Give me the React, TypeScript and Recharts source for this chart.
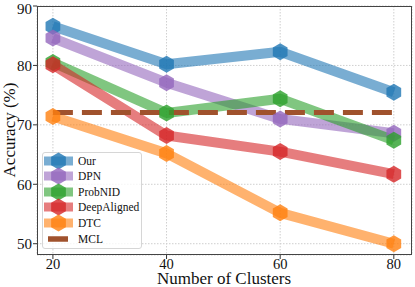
import React from 'react';
import { LineChart, Line, XAxis, YAxis, CartesianGrid } from 'recharts';

const clusters = [20, 40, 60, 80];
const ourAcc = [86.6, 80.2, 82.3, 75.5];
const dpnAcc = [84.6, 77.1, 71.0, 68.6];
const probnidAcc = [80.5, 72.0, 74.4, 67.4];
const deepAlignedAcc = [80.1, 68.2, 65.5, 61.7];
const dtcAcc = [71.4, 65.2, 55.2, 50.0];
const mclAcc = [72.1, 72.1, 72.1, 72.1];
const yTicks = [50, 60, 70, 80, 90];

const series = [
  { key: 'Our', values: ourAcc, color: '#1f77b4' },
  { key: 'DPN', values: dpnAcc, color: '#9467bd' },
  { key: 'ProbNID', values: probnidAcc, color: '#2ca02c' },
  { key: 'DeepAligned', values: deepAlignedAcc, color: '#d62728' },
  { key: 'DTC', values: dtcAcc, color: '#ff7f0e' },
];
const mclColor = '#a0522d';

const data = clusters.map((c, i) => {
  const row: Record<string, number> = { clusters: c, MCL: mclAcc[i] };
  series.forEach((s) => (row[s.key] = s.values[i]));
  return row;
});

const FONT = '"Liberation Serif", "DejaVu Serif", serif';

const hexPoints = (cx: number, cy: number, r: number) =>
  Array.from({ length: 6 }, (_, k) => {
    const a = (Math.PI / 3) * k - Math.PI / 2;
    return `${cx + r * Math.cos(a)},${cy + r * Math.sin(a)}`;
  }).join(' ');

const makeDot = (color: string) => (props: any) => {
  const { cx, cy, index } = props;
  if (cx == null || cy == null) return <g key={index} />;
  return <polygon key={index} points={hexPoints(cx, cy, 8.5)} fill={color} fillOpacity={0.8} stroke="none" />;
};

// legend drawn as an overlay so it doesn't eat into the plot area
const LegendBox = () => (
  <div
    style={{
      position: 'absolute',
      left: 42,
      top: 152,
      width: 100,
      height: 97,
      background: 'rgba(255,255,255,0.8)',
      border: '1px solid #d6d6d6',
      borderRadius: 3,
      boxSizing: 'border-box',
      fontFamily: FONT,
      fontSize: 11.5,
      color: '#111',
    }}
  >
    {series.map((s, i) => (
      <div key={s.key} style={{ position: 'absolute', left: 0, top: -1 + i * 15.4, height: 18, width: 100 }}>
        <svg width={36} height={18} style={{ position: 'absolute', left: 0, top: 0 }}>
          <line x1={1} y1={9} x2={30} y2={9} stroke={s.color} strokeOpacity={0.6} strokeWidth={9} />
          <polygon points={hexPoints(15.5, 9, 8.5)} fill={s.color} fillOpacity={0.8} />
        </svg>
        <span style={{ position: 'absolute', left: 35, top: 1, lineHeight: '16px' }}>{s.key}</span>
      </div>
    ))}
    <div style={{ position: 'absolute', left: 0, top: -1 + 5 * 15.4 + 1, height: 18, width: 100 }}>
      <svg width={36} height={18} style={{ position: 'absolute', left: 0, top: 0 }}>
        <line x1={5} y1={9} x2={25} y2={9} stroke={mclColor} strokeWidth={5.5} />
      </svg>
      <span style={{ position: 'absolute', left: 35, top: 1, lineHeight: '16px' }}>MCL</span>
    </div>
  </div>
);

const YLabel = () => (
  <text x={9} y={130} transform="rotate(-90 9 130)" textAnchor="middle" dominantBaseline="central"
    fontFamily={FONT} fontSize={17} fill="#111">
    Accuracy (%)
  </text>
);

const XLabel = () => (
  <text x={224} y={284} textAnchor="middle" fontFamily={FONT} fontSize={17} fill="#111">
    Number of Clusters
  </text>
);

const App: React.FC = () => {
  return (
    <div style={{ position: 'absolute', left: 0, top: 0, width: 415, height: 287, background: '#fff' }}>
      <LineChart width={415} height={287} data={data} margin={{ top: 6, right: 3, left: 0, bottom: 0 }}>
        <CartesianGrid stroke="#cfcfcf" strokeDasharray="1.5 1.5" />
        <XAxis
          dataKey="clusters"
          type="number"
          domain={[17.2, 83.2]}
          ticks={clusters}
          height={32}
          tickSize={4}
          tickMargin={0}
          tickLine={{ stroke: '#333' }}
          axisLine={false}
          tick={{ fontFamily: FONT, fontSize: 14.5, fill: '#111' }}
          label={<XLabel />}
        />
        <YAxis
          type="number"
          domain={[48.1, 90]}
          ticks={yTicks}
          width={37}
          tickSize={4}
          tickMargin={1}
          tickLine={{ stroke: '#333' }}
          axisLine={false}
          allowDataOverflow
          tick={{ fontFamily: FONT, fontSize: 15, fill: '#111' }}
          label={<YLabel />}
        />
        {series.map((s) => (
          <Line
            key={s.key}
            dataKey={s.key}
            stroke={s.color}
            strokeOpacity={0.6}
            strokeWidth={10}
            strokeLinejoin="round"
            dot={makeDot(s.color)}
            activeDot={false}
            isAnimationActive={false}
          />
        ))}
        <Line
          dataKey="MCL"
          stroke={mclColor}
          strokeWidth={5}
          strokeDasharray="20 9"
          dot={false}
          activeDot={false}
          isAnimationActive={false}
        />
      </LineChart>
      <LegendBox />
      <div
        style={{
          position: 'absolute',
          left: 37,
          top: 6,
          width: 375,
          height: 249,
          border: '1.2px solid #444',
          boxSizing: 'border-box',
          pointerEvents: 'none',
        }}
      />
    </div>
  );
};

export default App;
